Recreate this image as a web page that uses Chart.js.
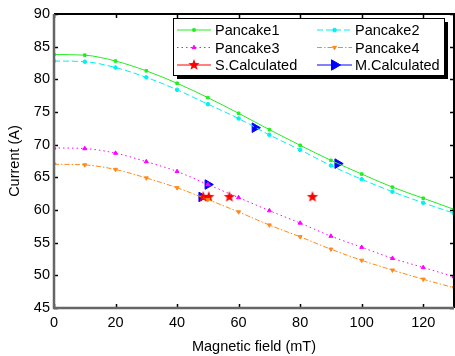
<!DOCTYPE html>
<html>
<head>
<meta charset="utf-8">
<script src="https://cdn.jsdelivr.net/npm/chart.js@4.4.1/dist/chart.umd.min.js"></script>
<style>
  html, body { margin: 0; padding: 0; background: #fff; }
  #wrap { width: 455px; height: 356px; }
</style>
</head>
<body>
<div id="wrap"><canvas id="chart" width="455" height="356"></canvas></div>
<script>
// field values (mT) for the four pancake curves
const fieldMT = [0, 10, 20, 30, 40, 50, 60, 70, 80, 90, 100, 110, 120, 130];
const pancake1 = [83.8, 83.7, 82.8, 81.3, 79.4, 77.2, 74.8, 72.3, 69.9, 67.6, 65.5, 63.5, 61.8, 60.1];
const pancake2 = [82.8, 82.7, 81.8, 80.3, 78.4, 76.2, 74.0, 71.5, 69.2, 66.8, 64.7, 62.8, 61.1, 59.5];
const pancake3 = [69.5, 69.4, 68.7, 67.4, 65.9, 63.9, 61.9, 59.9, 58.0, 56.0, 54.3, 52.6, 51.2, 49.8];
const pancake4 = [67.0, 66.9, 66.2, 64.9, 63.4, 61.6, 59.7, 57.7, 55.9, 54.0, 52.3, 50.8, 49.4, 48.1];

// calculated points
const sCalcField = [48.5, 50.3, 57.0, 84.0];
const sCalcCurrent = [62.0, 62.0, 62.0, 62.0];
const mCalcField = [48.0, 50.0, 65.3, 92.2];
const mCalcCurrent = [62.0, 63.9, 72.6, 67.1];

const xTicks = [0, 20, 40, 60, 80, 100, 120];
const yTicks = [45, 50, 55, 60, 65, 70, 75, 80, 85, 90];

const FONT = '"Liberation Sans", Arial, sans-serif';

const toXY = (xs, ys) => xs.map((x, i) => ({ x: x, y: ys[i] }));

// filled five point star for S.Calculated
function makeStar(r, color) {
  const c = document.createElement('canvas');
  c.width = c.height = r * 2 + 2;
  const g = c.getContext('2d');
  const cx = r + 1, cy = r + 1;
  g.beginPath();
  for (let i = 0; i < 10; i++) {
    const rad = i % 2 === 0 ? r : r * 0.42;
    const a = -Math.PI / 2 + i * Math.PI / 5;
    const px = cx + rad * Math.cos(a), py = cy + rad * Math.sin(a);
    if (i === 0) g.moveTo(px, py); else g.lineTo(px, py);
  }
  g.closePath();
  g.fillStyle = color;
  g.fill();
  return c;
}
const starImg = makeStar(6, '#ff0000');

const datasets = [
  { label: 'Pancake1', data: toXY(fieldMT, pancake1), borderColor: '#22ee22', backgroundColor: '#22ee22',
    pointBackgroundColor: '#22ee22', pointBorderColor: '#22ee22',
    borderWidth: 1, pointStyle: 'rect', pointRadius: 1.8, borderDash: [] },
  { label: 'Pancake2', data: toXY(fieldMT, pancake2), borderColor: '#00f0f0', backgroundColor: '#00f0f0',
    pointBackgroundColor: '#00f0f0', pointBorderColor: '#00f0f0',
    borderWidth: 1, pointStyle: 'circle', pointRadius: 1.8, borderDash: [6, 3] },
  { label: 'Pancake3', data: toXY(fieldMT, pancake3), borderColor: '#ff00ff', backgroundColor: '#ff00ff',
    pointBackgroundColor: '#ff00ff', pointBorderColor: '#ff00ff',
    borderWidth: 1, pointStyle: 'triangle', pointRadius: 2.3, borderDash: [1.5, 3] },
  { label: 'Pancake4', data: toXY(fieldMT, pancake4), borderColor: '#ff8a1a', backgroundColor: '#ff8a1a',
    pointBackgroundColor: '#ff8a1a', pointBorderColor: '#ff8a1a',
    borderWidth: 1, pointStyle: 'triangle', pointRotation: 180, pointRadius: 2.3, borderDash: [5, 2, 1.5, 2] },
  { label: 'S.Calculated', data: toXY(sCalcField, sCalcCurrent), showLine: false,
    borderColor: '#ff0000', backgroundColor: '#ff0000', pointStyle: starImg, pointRadius: 6 },
  { label: 'M.Calculated', data: toXY(mCalcField, mCalcCurrent), showLine: false,
    borderColor: '#0000ff', backgroundColor: '#0000ff', pointBackgroundColor: '#0000ff',
    pointStyle: 'triangle', pointRotation: 90, pointRadius: 5.5, borderWidth: 1 }
];

// frame with inward ticks on all four sides
const framePlugin = {
  id: 'frame',
  afterDatasetsDraw(chart) {
    const { ctx, chartArea: a, scales } = chart;
    ctx.save();
    ctx.strokeStyle = '#000';
    ctx.lineWidth = 1.5;
    const tl = 4;
    xTicks.forEach(v => {
      const px = Math.round(scales.x.getPixelForValue(v)) + 0.5;
      ctx.beginPath();
      ctx.moveTo(px, a.bottom); ctx.lineTo(px, a.bottom - tl);
      ctx.moveTo(px, a.top); ctx.lineTo(px, a.top + tl);
      ctx.stroke();
    });
    yTicks.forEach(v => {
      const py = Math.round(scales.y.getPixelForValue(v)) + 0.5;
      ctx.beginPath();
      ctx.moveTo(a.left, py); ctx.lineTo(a.left + tl, py);
      ctx.moveTo(a.right, py); ctx.lineTo(a.right - tl, py);
      ctx.stroke();
    });
    ctx.lineWidth = 2;
    ctx.strokeStyle = '#000';
    ctx.beginPath();
    ctx.moveTo(a.left, a.top); ctx.lineTo(a.right, a.top); ctx.lineTo(a.right, a.bottom);
    ctx.stroke();
    ctx.strokeStyle = '#666';
    ctx.lineWidth = 2.5;
    ctx.beginPath();
    ctx.moveTo(a.left, a.top); ctx.lineTo(a.left, a.bottom); ctx.lineTo(a.right, a.bottom);
    ctx.stroke();
    ctx.restore();
  }
};

// boxed legend with drop shadow, two columns
const legendPlugin = {
  id: 'boxLegend',
  afterDraw(chart) {
    const { ctx } = chart;
    const bx = 173, by = 18, bw = 271, bh = 57;
    ctx.save();
    ctx.fillStyle = '#000';
    ctx.fillRect(bx + 4, by + 4, bw, bh);
    ctx.fillStyle = '#fff';
    ctx.fillRect(bx, by, bw, bh);
    ctx.strokeStyle = '#000';
    ctx.lineWidth = 1;
    ctx.strokeRect(bx + 0.5, by + 0.5, bw, bh);
    const cols = [{ x0: 177, x1: 211, tx: 215 }, { x0: 317, x1: 352, tx: 355 }];
    const rows = [30, 47.5, 65];
    chart.data.datasets.forEach((ds, i) => {
      const c = cols[i % 2], y = rows[Math.floor(i / 2)];
      ctx.strokeStyle = ds.borderColor;
      ctx.lineWidth = 1;
      ctx.setLineDash(ds.borderDash || []);
      ctx.beginPath();
      ctx.moveTo(c.x0, y); ctx.lineTo(c.x1, y);
      ctx.stroke();
      ctx.setLineDash([]);
      const r = ds.showLine === false ? 6 : ds.pointRadius;
      ctx.fillStyle = ds.backgroundColor;
      ctx.strokeStyle = ds.borderColor;
      Chart.helpers.drawPoint(ctx, {
        pointStyle: ds.pointStyle, rotation: ds.pointRotation || 0, radius: r, borderWidth: 1
      }, (c.x0 + c.x1) / 2, y);
      ctx.fillStyle = '#000';
      ctx.font = '14.5px ' + FONT;
      ctx.textBaseline = 'middle';
      ctx.fillText(ds.label, c.tx, y + 1);
    });
    ctx.restore();
  }
};

new Chart(document.getElementById('chart'), {
  type: 'line',
  data: { datasets: datasets },
  options: {
    responsive: false,
    animation: false,
    layout: { autoPadding: false, padding: { top: 14, right: 1, left: 0, bottom: 0 } },
    elements: {
      line: { tension: 0.4, cubicInterpolationMode: 'monotone' },
      point: { borderWidth: 1 }
    },
    plugins: { legend: { display: false }, tooltip: { enabled: false } },
    scales: {
      x: {
        type: 'linear', min: 0, max: 130,
        grid: { display: false, drawTicks: false },
        border: { display: false },
        afterBuildTicks: s => { s.ticks = xTicks.map(v => ({ value: v })); },
        afterFit: s => { s.height = 48; s.paddingLeft = 0; s.paddingRight = 0; },
        ticks: { padding: 6, color: '#000', font: { family: FONT, size: 14.5 }, maxRotation: 0 },
        title: { display: true, text: 'Magnetic field (mT)', color: '#000',
          font: { family: FONT, size: 14.5 }, padding: { top: 5, bottom: 0 } }
      },
      y: {
        type: 'linear', min: 45, max: 90,
        grid: { display: false, drawTicks: false },
        border: { display: false },
        afterBuildTicks: s => { s.ticks = yTicks.map(v => ({ value: v })); },
        afterFit: s => { s.width = 54; },
        ticks: { padding: 4, color: '#000', font: { family: FONT, size: 14.5 } },
        title: { display: true, text: 'Current (A)', color: '#000',
          font: { family: FONT, size: 14.5 }, padding: { top: 6, bottom: 0 } }
      }
    }
  },
  plugins: [framePlugin, legendPlugin]
});
</script>
</body>
</html>
